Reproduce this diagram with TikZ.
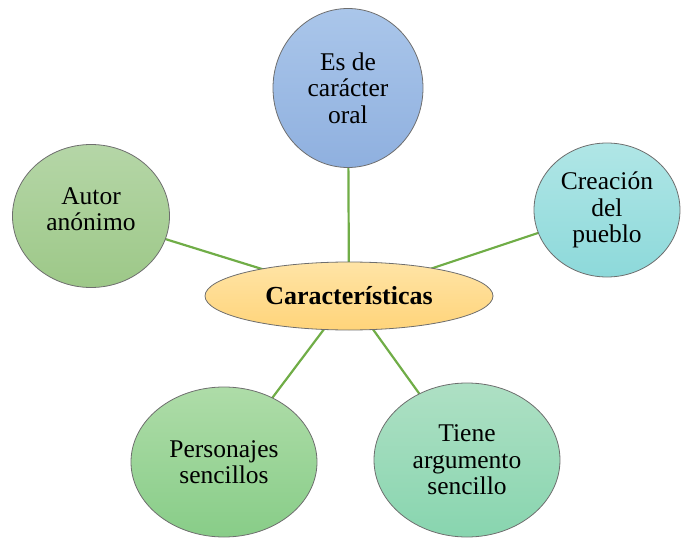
\documentclass[tikz,border=0pt]{standalone}
\usepackage{fontspec}
\setmainfont{Liberation Serif}
\newfontfamily\timesfont{Liberation Serif}
\usetikzlibrary{shapes.geometric,backgrounds}
\definecolor{linkgreen}{HTML}{70AD47}
\definecolor{edgegray}{HTML}{6E6E6E}
\tikzset{
  bubble/.style={ellipse, draw=edgegray, line width=0.8pt, inner sep=0pt,
    align=center, text=black, font=\timesfont\fontsize{25.5}{26.5}\selectfont},
  link/.style={draw=linkgreen, line width=2.2pt},
}
\begin{document}
\begin{tikzpicture}[x=1pt,y=-1pt]
\useasboundingbox (0,0) rectangle (681,538);
\node[bubble, minimum width=288pt, minimum height=68pt,
  top color={rgb,255:red,255;green,228;blue,166}, bottom color={rgb,255:red,255;green,212;blue,122},
  font=\timesfont\bfseries\fontsize{26}{26}\selectfont] (c) at (349,296) {Características};
\node[bubble, minimum width=150pt, minimum height=159pt,
  top color={rgb,255:red,170;green,198;blue,234}, bottom color={rgb,255:red,143;green,176;blue,223}]
  (t) at (348,88) {Es de\\carácter\\oral};
\node[bubble, minimum width=146pt, minimum height=134pt,
  top color={rgb,255:red,176;green,230;blue,230}, bottom color={rgb,255:red,141;green,217;blue,218}]
  (r) at (607,210) {Creación\\del\\pueblo};
\node[bubble, minimum width=157pt, minimum height=143pt, text depth=14pt,
  top color={rgb,255:red,181;green,214;blue,167}, bottom color={rgb,255:red,157;green,200;blue,136}]
  (l) at (91,216) {Autor\\anónimo};
\node[bubble, minimum width=186pt, minimum height=150pt,
  top color={rgb,255:red,174;green,220;blue,168}, bottom color={rgb,255:red,136;green,205;blue,136}]
  (bl) at (224,462) {Personajes\\sencillos};
\node[bubble, minimum width=186pt, minimum height=154pt,
  top color={rgb,255:red,174;green,224;blue,196}, bottom color={rgb,255:red,136;green,213;blue,175}]
  (br) at (467,460) {Tiene\\argumento\\sencillo};
\begin{scope}[on background layer]
  \draw[link] (c.center) -- (t.center);
  \draw[link] (c.center) -- (r.center);
  \draw[link] (c.center) -- (l.center);
  \draw[link] (c.center) -- (bl.center);
  \draw[link] (c.center) -- (br.center);
\end{scope}
\end{tikzpicture}
\end{document}
